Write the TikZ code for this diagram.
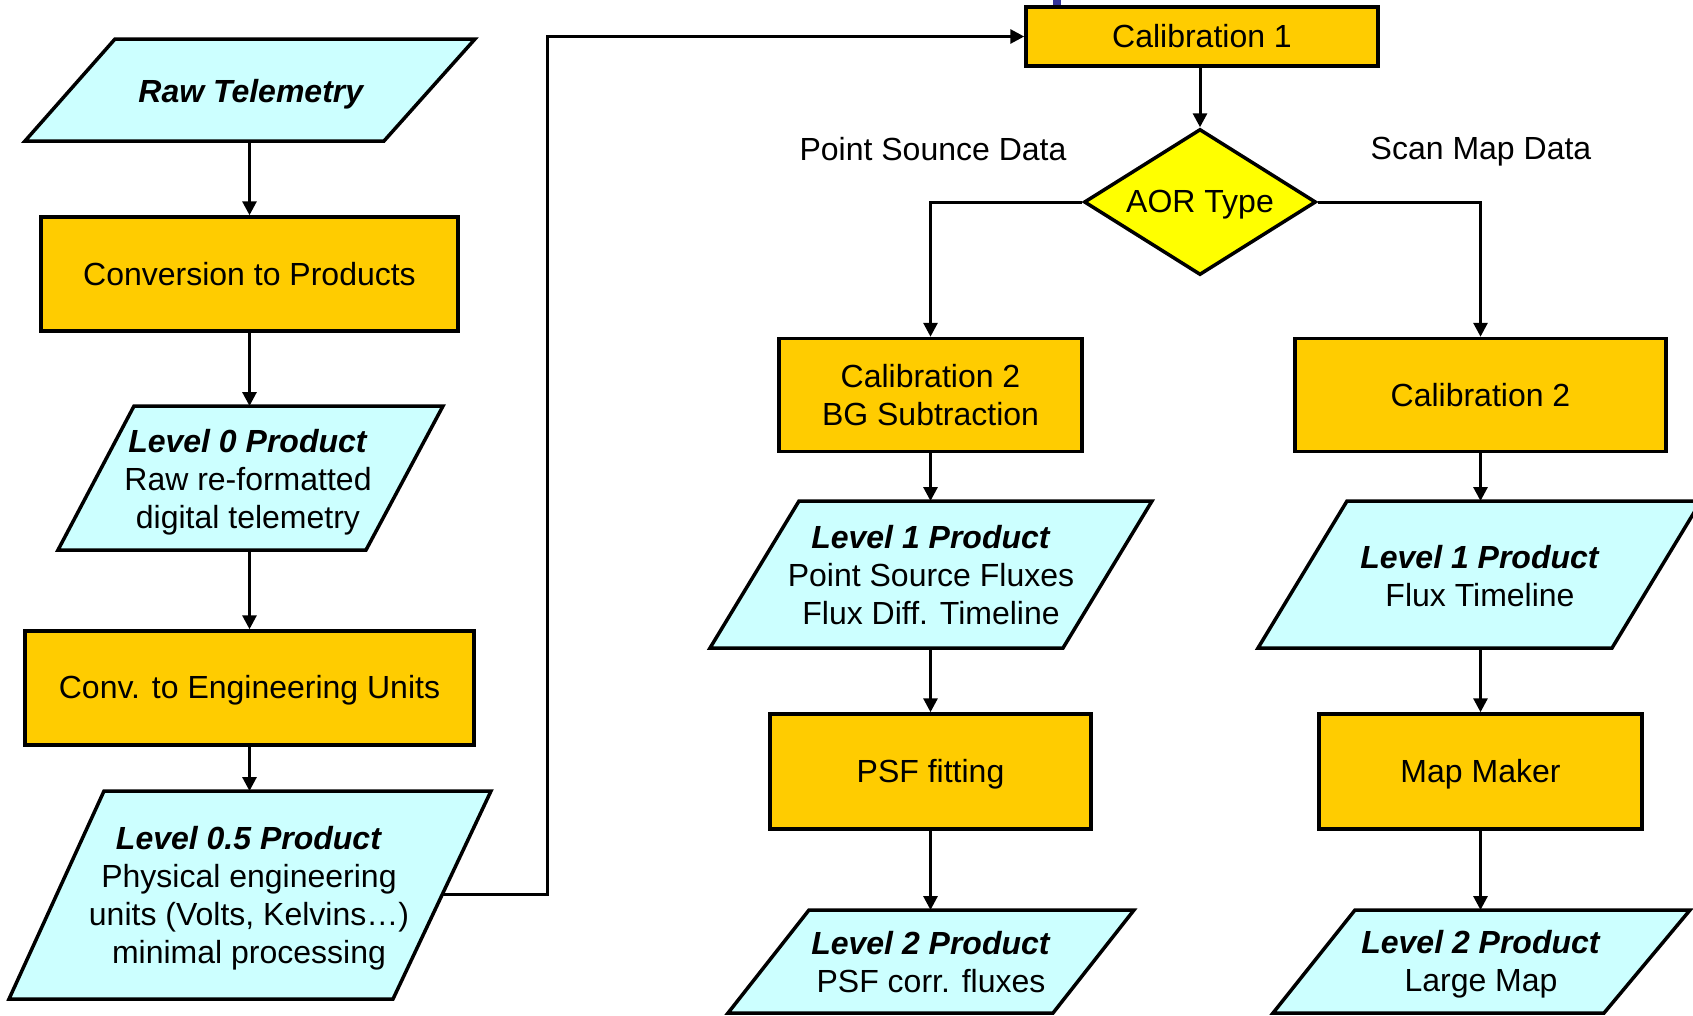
\documentclass[tikz,border=0pt]{standalone}
\usepackage{fontspec}
\setmainfont{Liberation Sans}
\usetikzlibrary{shapes.geometric,arrows.meta}
\definecolor{boxfill}{HTML}{FFCC00}
\definecolor{parafill}{HTML}{CCFFFF}
\definecolor{decfill}{HTML}{FFFF00}
\definecolor{bluemark}{HTML}{333399}
\newcommand{\fs}{\fontsize{32}{38}\selectfont}
\newcommand{\sk}{\rule[-0.19em]{0pt}{1.08em}}
\newcommand{\bi}[1]{\textbf{\textit{#1}}}
\begin{document}
\begin{tikzpicture}[x=1pt,y=-1pt,
 box/.style={draw=black,line width=3.5pt,fill=boxfill,inner sep=0pt,align=center,font=\fs},
 para/.style={draw=black,line width=3.5pt,fill=parafill,line join=miter},
 lbl/.style={inner sep=0pt,align=center,font=\fs},
 arr/.style={line width=3pt,-{Triangle[length=14pt,width=14pt]}},
 conn/.style={line width=3pt}]
\useasboundingbox (0,0) rectangle (1693,1015);
\clip (0,0) rectangle (1693,1015);
\fill[white] (0,0) rectangle (1693,1015);
\fill[bluemark] (1053,0) rectangle (1061,6);

% left column
\draw[para] (115,39) -- (475,39) -- (384,141) -- (25,141) -- cycle;
\node[lbl] (raw) at (251.5,92) {\sk\bi{Raw Telemetry}};
\coordinate (raw-s) at (249.5,141);

\node[box,minimum width=417pt,minimum height=114pt] (conv) at (249.5,274) {\sk Conversion to Products};

\draw[para] (134,406) -- (443,406) -- (366,550) -- (58,550) -- cycle;
\node[lbl] (l0) at (248,480) {\sk\bi{Level 0 Product}\\\sk Raw re-formatted\\\sk digital telemetry};
\coordinate (l0-n) at (249.5,406);
\coordinate (l0-s) at (249.5,550);

\node[box,minimum width=449pt,minimum height=114pt] (eng) at (249.5,688) {\sk Conv. to Engineering Units};

\draw[para] (104,791) -- (491,791) -- (393,999) -- (9,999) -- cycle;
\node[lbl] (l05) at (249,896) {\sk\bi{Level 0.5 Product}\\\sk Physical engineering\\\sk units (Volts, Kelvins…)\\\sk minimal processing};
\coordinate (l05-n) at (249.5,791);
\coordinate (l05-e) at (442.5,894);
\coordinate (bend) at (547,894);

% top
\node[box,minimum width=352pt,minimum height=59pt] (cal1) at (1202,36.5) {\sk Calibration 1};
\node[shape=diamond,draw=black,line width=3.5pt,fill=decfill,inner sep=0pt,aspect=1.589,
  minimum width=232pt,minimum height=146pt,font=\fs] (aor) at (1200,202) {\sk AOR Type};
\node[lbl] (psd) at (933,149) {\sk Point Sounce Data};
\node[lbl] (smd) at (1481,149) {\sk Scan Map Data};

% middle column
\node[box,minimum width=303pt,minimum height=113pt] (cal2a) at (930.5,395) {\sk Calibration 2\\\sk BG Subtraction};
\draw[para] (799,501) -- (1152,501) -- (1063,648) -- (710,648) -- cycle;
\node[lbl] (l1a) at (931,575) {\sk\bi{Level 1 Product}\\\sk Point Source Fluxes\\\sk Flux Diff. Timeline};
\coordinate (l1a-n) at (930.5,501);
\coordinate (l1a-s) at (930.5,648);
\node[box,minimum width=321pt,minimum height=115pt] (psf) at (930.5,771.5) {\sk PSF fitting};
\draw[para] (809,910) -- (1134,910) -- (1053,1013) -- (728,1013) -- cycle;
\node[lbl] (l2a) at (931,962) {\sk\bi{Level 2 Product}\\\sk PSF corr. fluxes};
\coordinate (l2a-n) at (930.5,910);

% right column
\node[box,minimum width=371pt,minimum height=113pt] (cal2b) at (1480.5,395) {\sk Calibration 2};
\draw[para] (1347,501) -- (1701,501) -- (1612,648) -- (1258,648) -- cycle;
\node[lbl] (l1b) at (1480,576) {\sk\bi{Level 1 Product}\\\sk Flux Timeline};
\coordinate (l1b-n) at (1480.5,501);
\coordinate (l1b-s) at (1480.5,648);
\node[box,minimum width=323pt,minimum height=115pt] (map) at (1480.5,771.5) {\sk Map Maker};
\draw[para] (1355,910) -- (1690,910) -- (1604,1013) -- (1273,1013) -- cycle;
\node[lbl] (l2b) at (1481,962) {\sk\bi{Level 2 Product}\\\sk Large Map};
\coordinate (l2b-n) at (1480.5,910);

% connectors
\draw[arr] (raw-s) -- (conv.north);
\draw[arr] (conv.south) -- (l0-n);
\draw[arr] (l0-s) -- (eng.north);
\draw[arr] (eng.south) -- (l05-n);
\draw[arr] (l05-e) -- (bend) |- (cal1.west);
\draw[arr] (aor.north |- cal1.south) -- (aor.north);
\draw[arr] (aor.west) -| (cal2a.north);
\draw[arr] (aor.east) -| (cal2b.north);
\draw[arr] (cal2a.south) -- (l1a-n);
\draw[arr] (l1a-s) -- (psf.north);
\draw[arr] (psf.south) -- (l2a-n);
\draw[arr] (cal2b.south) -- (l1b-n);
\draw[arr] (l1b-s) -- (map.north);
\draw[arr] (map.south) -- (l2b-n);
\end{tikzpicture}
\end{document}
